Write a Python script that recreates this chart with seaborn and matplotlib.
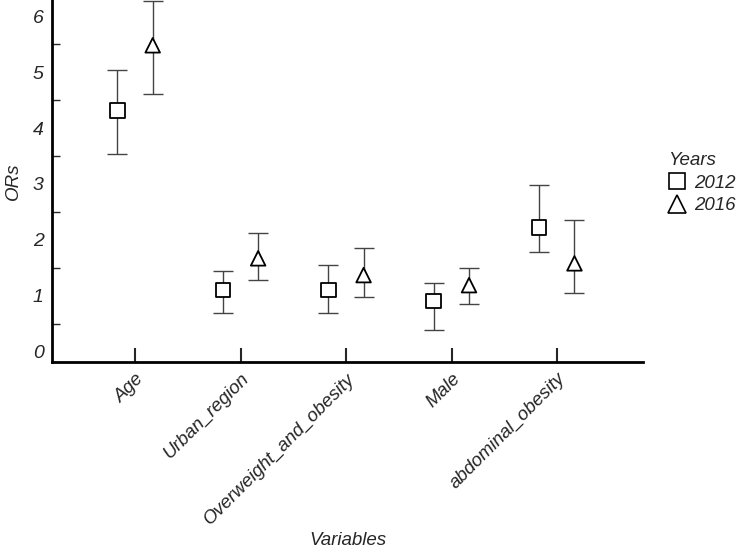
import numpy as np
import pandas as pd
import matplotlib
matplotlib.use("Agg")
import matplotlib.pyplot as plt
from matplotlib.ticker import MultipleLocator
from matplotlib.lines import Line2D
import seaborn as sns

# values
variables = ["Age", "Urban_region", "Overweight_and_obesity", "Male", "abdominal_obesity"]
years = ["2012", "2016"]
or_2012 = [4.31, 1.10, 1.10, 0.91, 2.22]
lo_2012 = [3.53, 0.70, 0.70, 0.38, 1.79]
hi_2012 = [5.03, 1.45, 1.55, 1.23, 2.98]
or_2016 = [5.48, 1.67, 1.37, 1.19, 1.58]
lo_2016 = [4.61, 1.28, 0.97, 0.85, 1.05]
hi_2016 = [6.27, 2.13, 1.85, 1.49, 2.35]

rows = []
for i, v in enumerate(variables):
    rows.append(dict(var=v, year="2012", pos=i - 0.17, OR=or_2012[i], lo=lo_2012[i], hi=hi_2012[i]))
    rows.append(dict(var=v, year="2016", pos=i + 0.165, OR=or_2016[i], lo=lo_2016[i], hi=hi_2016[i]))
df = pd.DataFrame(rows)

sns.set_style("white")
plt.rcParams['font.family'] = ['Liberation Sans', 'DejaVu Sans']
plt.rcParams['font.style'] = 'italic'

fig = plt.figure(figsize=(7.4, 5.49), dpi=100)
ax = fig.add_axes([52 / 740, 187 / 549, 591 / 740, 362 / 549])

# whiskers
ax.errorbar(df['pos'], df['OR'], yerr=[df['OR'] - df['lo'], df['hi'] - df['OR']],
            fmt='none', ecolor='#444444', elinewidth=1, capsize=7, capthick=1, zorder=1)

sns.scatterplot(data=df, x='pos', y='OR', style='year', markers={'2012': 's', '2016': '^'},
                facecolor='white', edgecolor='black', linewidth=1.3, s=110, ax=ax,
                legend=False, zorder=3)

ax.set_xlim(-0.79, 4.815)
ax.set_ylim(-0.184, 6.29)
ax.set_xticks(range(len(variables)))
ax.set_xticklabels(variables, rotation=45, ha='right', rotation_mode='anchor', fontsize=13.5)
ax.yaxis.set_major_locator(MultipleLocator(1))
ax.yaxis.set_minor_locator(MultipleLocator(0.5))
ax.tick_params(axis='y', which='major', direction='in', length=10, width=1, labelsize=14, pad=6)
ax.tick_params(axis='y', which='minor', direction='in', length=6, width=1, left=True)
ax.tick_params(axis='x', which='major', direction='in', length=10, width=1.5, pad=6, bottom=True)

for s in ['top', 'right']:
    ax.spines[s].set_visible(False)
for s in ['left', 'bottom']:
    ax.spines[s].set_linewidth(2)
    ax.spines[s].set_color('black')

ax.set_xlabel('Variables', fontsize=13.5, labelpad=3)
ax.set_ylabel('ORs', fontsize=13.5, labelpad=8)

handles = [Line2D([], [], marker='s', ls='none', mfc='white', mec='black', ms=11, mew=1.2),
           Line2D([], [], marker='^', ls='none', mfc='white', mec='black', ms=13, mew=1.2)]
leg = fig.legend(handles, years, title='Years', loc='upper left', bbox_to_anchor=(668 / 740, 1 - 152 / 549),
                 frameon=False, fontsize=13.5, title_fontsize=13.5, handletextpad=0.4,
                 labelspacing=0.3, handlelength=1.0, borderaxespad=0, borderpad=0)
leg._legend_box.align = 'left'

fig.savefig('out.png', dpi=100)
